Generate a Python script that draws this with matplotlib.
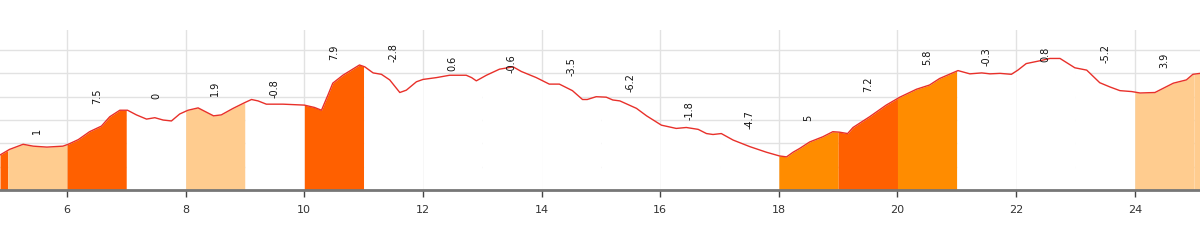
import numpy as np
import matplotlib
matplotlib.use("Agg")
import matplotlib.pyplot as plt

# elevation profile (km, m)
km = [4.87, 5.03, 5.26, 5.43, 5.66, 5.93, 6.02, 6.19, 6.38, 6.58, 6.72, 6.89, 7.02, 7.17, 7.34,
      7.48, 7.62, 7.76, 7.90, 8.04, 8.21, 8.47, 8.60, 8.80, 8.99, 9.11, 9.22, 9.36, 9.64, 10.0,
      10.17, 10.29, 10.40, 10.48, 10.65, 10.79, 10.93, 11.02, 11.16, 11.30, 11.44, 11.61, 11.72,
      11.89, 12.0, 12.23, 12.45, 12.73, 12.82, 12.90, 13.07, 13.29, 13.52, 13.66, 13.91, 14.13,
      14.30, 14.52, 14.69, 14.77, 14.92, 15.09, 15.20, 15.32, 15.60, 15.77, 16.02, 16.27, 16.44,
      16.64, 16.78, 16.89, 17.03, 17.23, 17.51, 17.79, 18.01, 18.13, 18.24, 18.35, 18.52, 18.74,
      18.91, 19.02, 19.16, 19.25, 19.53, 19.81, 20.04, 20.32, 20.54, 20.71, 21.02, 21.22, 21.42,
      21.56, 21.73, 21.92, 22.03, 22.17, 22.40, 22.57, 22.74, 22.99, 23.19, 23.41, 23.58, 23.75,
      23.95, 24.09, 24.34, 24.65, 24.87, 24.98, 25.1]
elev = [75, 87, 98, 94, 92, 94, 98, 108, 125, 137, 157, 171, 171, 161, 152,
        155, 150, 148, 163, 171, 176, 159, 161, 175, 187, 194, 191, 184, 184, 182,
        177, 171, 204, 229, 246, 257, 268, 264, 251, 248, 236, 209, 214,
        232, 237, 241, 246, 246, 241, 234, 246, 259, 264, 254, 241, 227,
        227, 213, 194, 194, 200, 199, 193, 191, 175, 159, 139, 132, 134,
        130, 121, 119, 121, 107, 93, 81, 73, 71, 81, 89, 103, 114,
        125, 124, 121, 134, 157, 182, 199, 216, 225, 239, 256, 249, 251,
        249, 250, 248, 257, 271, 277, 282, 282, 262, 257, 230, 221, 213,
        211, 208, 209, 229, 236, 248, 250]

# slope (%) per km segment, segment k -> k+1
seg_start = [4, 5, 6, 7, 8, 9, 10, 11, 12, 13, 14, 15, 16, 17, 18, 19, 20, 21, 22, 23, 24, 25]
slopes = [8, 1, 7.5, 0, 1.9, -0.8, 7.9, -2.8, 0.6, -0.6, -3.5, -6.2, -1.8, -4.7, 5, 7.2, 5.8,
          -0.3, 0.8, -5.2, 3.9, 3]
slope_labels = ["", "1", "7.5", "0", "1.9", "-0.8", "7.9", "-2.8", "0.6", "-0.6", "-3.5", "-6.2",
                "-1.8", "-4.7", "5", "7.2", "5.8", "-0.3", "0.8", "-5.2", "3.9", ""]

km = np.array(km)
elev = np.array(elev, dtype=float)
x0, x1 = 4.87, 25.1


def slope_color(s):
    if s >= 7:
        return "#ff6000"
    if s >= 5:
        return "#ff8c00"
    if s >= 1:
        return "#ffcc8f"
    return "white"


fig = plt.figure(figsize=(12, 2.4), dpi=100)
ax = fig.add_axes([0, 50 / 240, 1, 160 / 240])

for gy in range(50, 301, 50):
    ax.axhline(gy, color="#e2e2e2", lw=1, zorder=0)
for gx in range(6, 26, 2):
    ax.axvline(gx, color="#e2e2e2", lw=1, zorder=0)

for k, s, lab in zip(seg_start, slopes, slope_labels):
    a, b = max(k, x0), min(k + 1, x1)
    if a >= b:
        continue
    inner = km[(km > a) & (km < b)]
    xs = np.concatenate([[a], inner, [b]])
    ys = np.interp(xs, km, elev)
    ax.fill_between(xs, 0, ys, color=slope_color(s), lw=0, zorder=1)
    if lab:
        ytxt = max(np.interp(k, km, elev), np.interp(k + 1, km, elev)) + 30
        ax.text(k + 0.5, ytxt, lab, rotation=90, ha="center", va="center",
                fontsize=7, color="#111111", zorder=4)

ax.plot(km, elev, color="#e8302a", lw=1, zorder=3)

ax.set_xlim(x0, x1)
ax.set_ylim(0, 343)
ax.set_xticks(range(6, 26, 2))
ax.set_yticks([])
for sp in ["top", "left", "right"]:
    ax.spines[sp].set_visible(False)
ax.spines["bottom"].set_color("#777777")
ax.spines["bottom"].set_linewidth(2)
ax.spines["bottom"].set_zorder(5)
ax.tick_params(axis="x", length=5, width=1, color="#444444", labelsize=8,
               labelcolor="#333333", pad=6)

fig.savefig("out.png", dpi=100, facecolor="white")
